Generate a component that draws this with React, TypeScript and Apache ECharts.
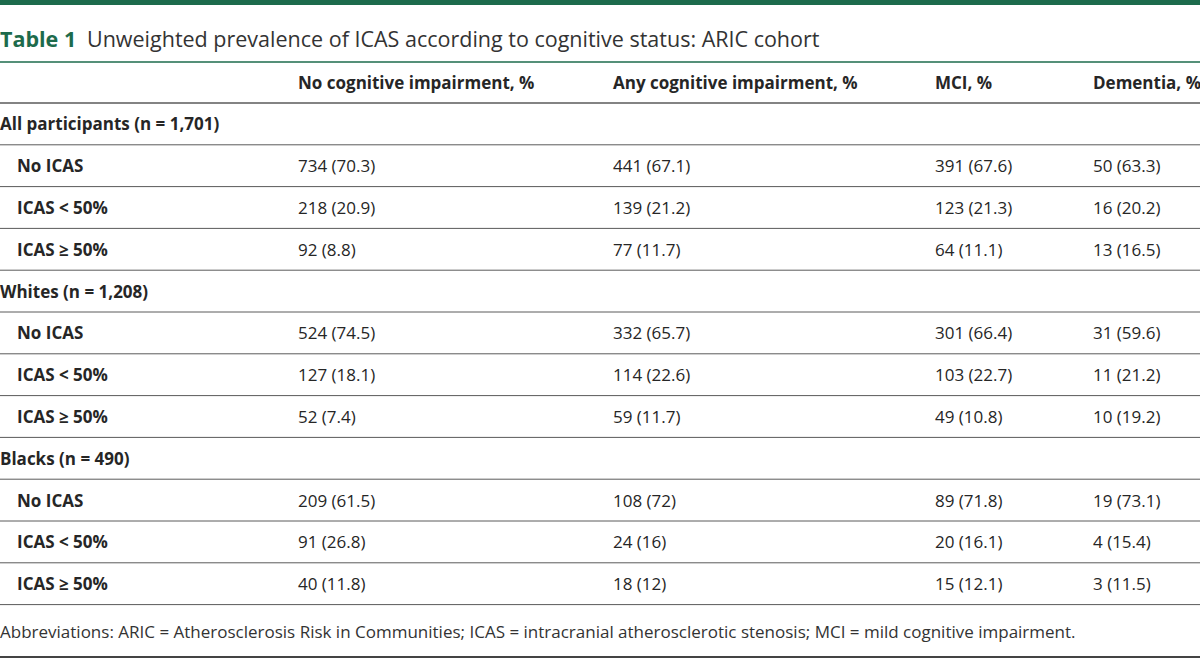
import React, { useEffect, useRef } from "react";
import * as echarts from "echarts";

const titleLabel = "Table 1";
const titleText = "Unweighted prevalence of ICAS according to cognitive status: ARIC cohort";
const columns = ["No cognitive impairment, %", "Any cognitive impairment, %", "MCI, %", "Dementia, %"];
const sections = ["All participants (n = 1,701)", "Whites (n = 1,208)", "Blacks (n = 490)"];
const rowLabels = ["No ICAS", "ICAS < 50%", "ICAS \u2265 50%"];
const allValues = [
  ["734 (70.3)", "441 (67.1)", "391 (67.6)", "50 (63.3)"],
  ["218 (20.9)", "139 (21.2)", "123 (21.3)", "16 (20.2)"],
  ["92 (8.8)", "77 (11.7)", "64 (11.1)", "13 (16.5)"],
];
const whiteValues = [
  ["524 (74.5)", "332 (65.7)", "301 (66.4)", "31 (59.6)"],
  ["127 (18.1)", "114 (22.6)", "103 (22.7)", "11 (21.2)"],
  ["52 (7.4)", "59 (11.7)", "49 (10.8)", "10 (19.2)"],
];
const blackValues = [
  ["209 (61.5)", "108 (72)", "89 (71.8)", "19 (73.1)"],
  ["91 (26.8)", "24 (16)", "20 (16.1)", "4 (15.4)"],
  ["40 (11.8)", "18 (12)", "15 (12.1)", "3 (11.5)"],
];
const footnote =
  "Abbreviations: ARIC = Atherosclerosis Risk in Communities; ICAS = intracranial atherosclerotic stenosis; MCI = mild cognitive impairment.";

const GREEN = "#1d6b4c";
const TEXT = "#262626";
const LINE = "#5a5a5a";
const FONT = "'Open Sans', 'Noto Sans', sans-serif";

export default function App() {
  const ref = useRef<HTMLDivElement>(null);
  useEffect(() => {
    document.body.style.margin = "0";
    const chart = echarts.init(ref.current!, null, { renderer: "svg" });
    const W = 1200;
    const colX = [298, 613, 935, 1093];
    const headerY = 82;
    const firstLine = 103;
    const pitch = 41.8;
    const els: any[] = [];
    const txt = (x: number, y: number, text: string, size: number, weight: string, fill: string) =>
      els.push({
        type: "text",
        x,
        y,
        style: { text, fontSize: size, fontWeight: weight, fontFamily: FONT, fill, verticalAlign: "middle", align: "left" },
      });
    const hline = (y: number, w: number, c: string) =>
      els.push({ type: "line", shape: { x1: 0, y1: y, x2: W, y2: y }, style: { stroke: c, lineWidth: w } });

    els.push({ type: "rect", shape: { x: 0, y: 0, width: W, height: 5 }, style: { fill: GREEN } });
    txt(0, 38, titleLabel, 21.5, "bold", GREEN);
    txt(87, 38, titleText, 21.5, "normal", "#333333");
    hline(62, 1.5, GREEN);
    columns.forEach((c, i) => txt(colX[i], headerY, c, 17, "bold", TEXT));
    hline(firstLine, 1.5, LINE);

    const groups = [allValues, whiteValues, blackValues];
    let row = 0;
    sections.forEach((s, si) => {
      const yc = firstLine + pitch * row + pitch / 2;
      txt(0, yc, s, 17, "bold", TEXT);
      row++;
      hline(firstLine + pitch * row, 1, LINE);
      rowLabels.forEach((lab, ri) => {
        const y = firstLine + pitch * row + pitch / 2;
        txt(17, y, lab, 17, "bold", TEXT);
        groups[si][ri].forEach((v, ci) => txt(colX[ci], y, v, 17, "normal", TEXT));
        row++;
        hline(firstLine + pitch * row, 1, LINE);
      });
    });
    txt(0, 631, footnote, 17, "normal", "#333333");
    hline(657, 2, "#444444");

    chart.setOption({ animation: false, graphic: { elements: els } });
    return () => chart.dispose();
  }, []);
  return <div ref={ref} style={{ position: "absolute", left: 0, top: 0, width: 1200, height: 659, background: "#fff" }} />;
}
